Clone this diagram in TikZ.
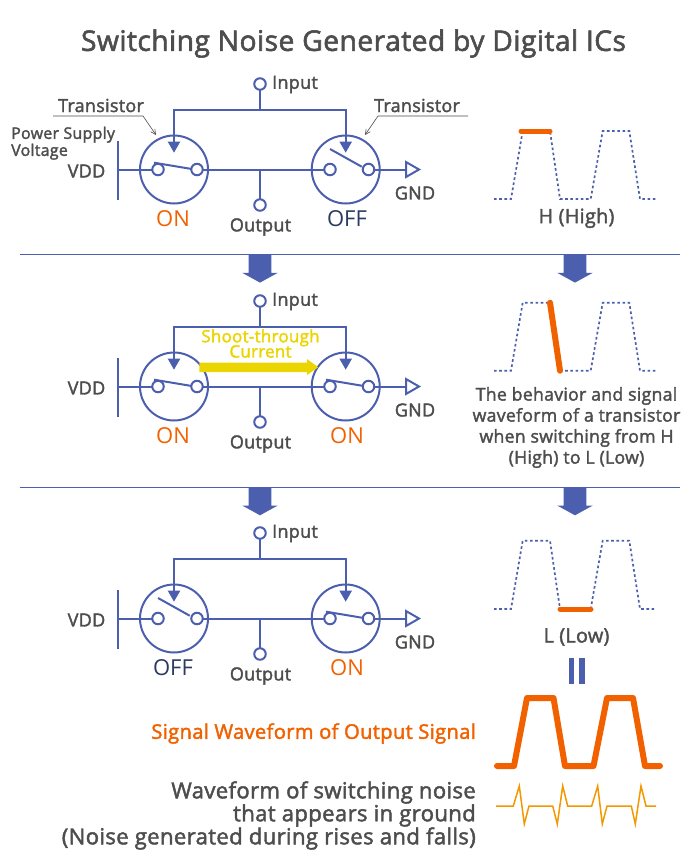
\documentclass[tikz,border=0pt]{standalone}
\usepackage{fontspec}
\setmainfont{Open Sans}[FakeBold=2,LetterSpace=1.5]
\newfontfamily\regfont{Open Sans}
\usetikzlibrary{arrows.meta}
\definecolor{wire}{HTML}{4C5FAE}
\definecolor{hot}{HTML}{F26100}
\definecolor{txt}{HTML}{4D4D4D}
\definecolor{navy}{HTML}{2A3A60}
\definecolor{volt}{HTML}{EBD500}
\definecolor{noise}{HTML}{F39800}
\tikzset{
  x=1pt,y=-1pt,
  wireline/.style={draw=wire,line width=2pt},
  gate/.style={wireline,-{Triangle[length=11pt,width=12pt,fill=wire]}},
  xtor/.style={circle,draw=wire,line width=2pt,minimum size=68pt,inner sep=0pt,outer sep=0pt},
  pin/.style={circle,draw=wire,line width=2pt,fill=white,minimum size=11.5pt,inner sep=0pt,outer sep=0pt},
  lab/.style={text=txt,font=\fontsize{18}{19}\selectfont,inner sep=0pt},
  statelab/.style={font=\regfont\fontsize{22}{24}\selectfont,inner sep=0pt},
  leader/.style={draw=txt,line width=0.6pt},
  rulerline/.style={draw=wire,line width=1pt},
  dotwave/.style={draw=wire,line width=1.7pt,dash pattern=on 2.6pt off 2.6pt},
  hotline/.style={draw=hot,line width=5pt,line cap=round,line join=round},
  rightlab/.style={text=txt,font=\fontsize{22.15}{23}\selectfont,inner sep=0pt,anchor=east},
  notelab/.style={text=txt,font=\fontsize{17.7}{21}\selectfont,inner sep=0pt},
}
\newcommand{\leverOn}[2]{\draw[wireline] (#1-4,#2-6.8) -- (#1+33.7,#2-0.5);}
\newcommand{\leverOff}[2]{\draw[wireline] (#1,#2-20.5) -- (#1+31.7,#2-2.8);}
% prefix, main y, left lever, right lever, left text, left colour, right text, right colour
\newcommand{\circuit}[8]{%
  \pgfmathsetmacro{\my}{#2}
  \pgfmathsetmacro{\by}{#2-60}
  \pgfmathsetmacro{\iy}{#2-85.5}
  \pgfmathsetmacro{\il}{#2-85}
  \pgfmathsetmacro{\oy}{#2+35.5}
  \pgfmathsetmacro{\ty}{#2-16.8}
  \pgfmathsetmacro{\vt}{#2-29}
  \pgfmathsetmacro{\vb}{#2+30.5}
  \pgfmathsetmacro{\gy}{#2+23.5}
  \pgfmathsetmacro{\outy}{#2+57.5}
  \pgfmathsetmacro{\sy}{#2+49.5}
  \pgfmathsetmacro{\vl}{#2+1.5}
  \node[xtor] (#1t1) at (174,\my) {};
  \node[xtor] (#1t2) at (345.7,\my) {};
  \coordinate (#1vt) at (118,\vt);
  \coordinate (#1vb) at (118,\vb);
  \coordinate (#1v) at (118,\my);
  \coordinate (#1g) at (406,\my);
  \coordinate (#1j) at (260,\by);
  \coordinate (#1w) at (260,\my);
  \coordinate (#1g1) at (174,\ty);
  \coordinate (#1g2) at (345.7,\ty);
  \node[pin] (#1in) at (260,\iy) {};
  \node[pin] (#1out) at (260,\oy) {};
  \draw[wireline] (#1vt) -- (#1vb);
  #3{158}{\my}
  #4{330}{\my}
  \node[pin] (#1c1) at (158,\my) {};
  \node[pin] (#1c2) at (197,\my) {};
  \node[pin] (#1c3) at (330,\my) {};
  \node[pin] (#1c4) at (368.5,\my) {};
  \draw[wireline] (#1v) -- (#1c1);
  \draw[wireline] (#1c2) -- (#1c3);
  \draw[wireline] (#1c4) -- (#1g);
  \draw[wireline] (#1w) -- (#1out);
  \draw[wireline] (#1in) -- (#1j);
  \draw[gate] (#1j) -| (#1g1);
  \draw[gate] (#1j) -| (#1g2);
  \draw[wireline,fill=white] (#1g) -- ++(0,-7.5) -- ++(13,7.5) -- ++(-13,7.5) -- cycle;
  \node[lab,anchor=west] (#1inl) at (272,\il) {Input};
  \node[lab] (#1outl) at (260.5,\outy) {Output};
  \node[lab] (#1vdd) at (86.5,\vl) {VDD};
  \node[lab] (#1gnd) at (415,\gy) {GND};
  \node[statelab,text=#6] (#1s1) at (173,\sy) {#5};
  \node[statelab,text=#8] (#1s2) at (347,\sy) {#7};
}
\newcommand{\bigdown}[2]{%
  \fill[wire] (#1-11.3,#2) -- (#1+11.3,#2) -- (#1+11.3,#2+18.5) -- (#1+17.8,#2+18.5) -- (#1,#2+28.3) -- (#1-17.8,#2+18.5) -- (#1-11.3,#2+18.5) -- cycle;
}
\newcommand{\wave}[2]{%
  \draw[dotwave] (494,#2) -- (511,#2) -- (522.7,#1) -- (550,#1) -- (560,#2) -- (590.7,#2) -- (602.7,#1) -- (629.3,#1) -- (640,#2) -- (656,#2);
}
\begin{document}
\begin{tikzpicture}
\useasboundingbox (0,0) rectangle (700,860);
\node[text=txt,font=\fontsize{28.3}{32}\selectfont,inner sep=0pt] (title) at (353.5,43.5) {Switching Noise Generated by Digital ICs};

\draw[rulerline] (20,254.3) -- (680,254.3);
\draw[rulerline] (20,487) -- (680,487);
\bigdown{260}{254.3}
\bigdown{575}{254.3}
\bigdown{260}{487}
\bigdown{575}{487}

\circuit{a}{169.5}{\leverOn}{\leverOff}{ON}{hot}{OFF}{navy}
\circuit{b}{386.5}{\leverOn}{\leverOn}{ON}{hot}{ON}{hot}
\circuit{c}{618.5}{\leverOff}{\leverOn}{OFF}{navy}{ON}{hot}

\node[lab] (tl) at (101,105.5) {Transistor};
\node[lab] (tr) at (417,105.5) {Transistor};
\coordinate (tla) at (53,116);
\coordinate (tlb) at (143,116);
\coordinate (tlc) at (156,135);
\coordinate (tra) at (468,116);
\coordinate (trb) at (378,116);
\coordinate (trc) at (365,135);
\draw[leader,-{Straight Barb[length=5pt,width=5pt]}] (tla) -- (tlb) -- (tlc);
\draw[leader,-{Straight Barb[length=5pt,width=5pt]}] (tra) -- (trb) -- (trc);
\node[text=txt,font=\fontsize{16}{15.5}\selectfont,inner sep=0pt,anchor=north west,align=left] (psv) at (11,126.5) {Power Supply\\Voltage};

\node[text=volt,font=\fontsize{17}{16}\selectfont,inner sep=0pt,align=center] (st) at (260.5,343.5) {Shoot-through\\[-2.2pt]Current};
\fill[volt] (199.3,362.7) -- (307,362.7) -- (307,359) -- (318.3,367.3) -- (307,375) -- (307,372) -- (199.3,372) -- cycle;

\wave{131}{199}
\wave{302.7}{370.7}
\wave{540.7}{609}
\draw[hotline] (521,131) -- (550,131);
\draw[hotline,line width=6pt] (550,302.7) -- (560,370.7);
\draw[hotline] (560,609) -- (591,609);
\node[lab,font=\fontsize{19.8}{21}\selectfont] (hi) at (576.5,218) {H (High)};
\node[lab,font=\fontsize{19.8}{21}\selectfont] (lo) at (576.5,637) {L (Low)};
\node[notelab,align=center] (note) at (576.5,427.5) {The behavior and signal\\waveform of a transistor\\when switching from H\\(High) to L (Low)};

\fill[wire] (568.7,658) rectangle (574,684);
\fill[wire] (579.3,658) rectangle (585,684);

\draw[hotline,line width=6pt] (497,766) -- (514,766) -- (527,698) -- (553.5,698) -- (565,766) -- (593.5,766) -- (607,698) -- (633,698) -- (645,766) -- (660,766);
\draw[noise,line width=1.5pt] (496,806) -- (513.3,806) -- (519.3,786) -- (524.3,824) -- (529,806) -- (552.7,806) -- (557.3,824) -- (562.7,786) -- (567.7,806) -- (591.7,806) -- (597.7,786) -- (602.3,824) -- (607,806) -- (631.3,806) -- (635.3,824) -- (641,786) -- (646,806) -- (656,806);

\node[text=hot,font=\fontsize{20.2}{21}\selectfont,inner sep=0pt,anchor=east] (sig) at (476,733.5) {Signal Waveform of Output Signal};
\node[rightlab] (n1) at (476,792.5) {Waveform of switching noise};
\node[rightlab] (n2) at (476,815.5) {that appears in ground};
\node[rightlab] (n3) at (476,838.5) {(Noise generated during rises and falls)};
\end{tikzpicture}
\end{document}
